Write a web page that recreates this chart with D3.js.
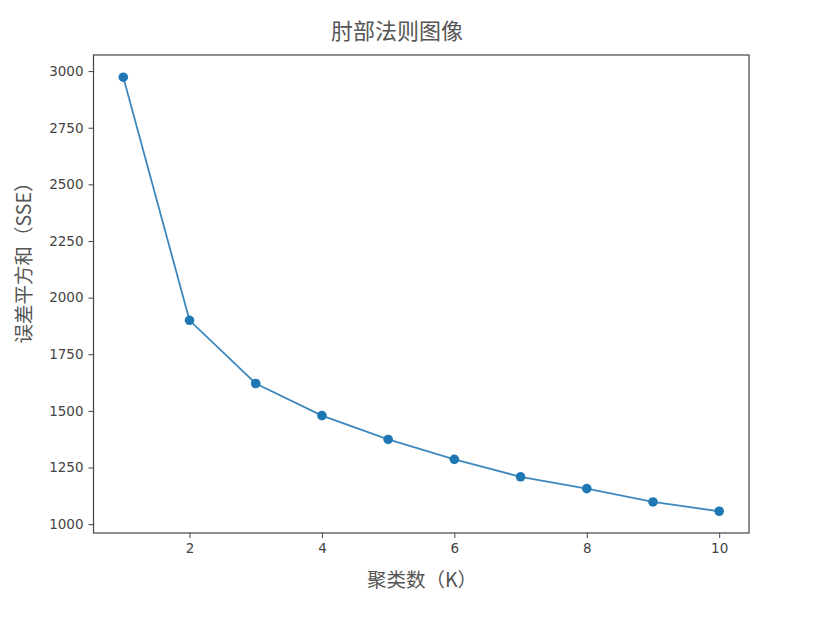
<!DOCTYPE html>
<html><head><meta charset="utf-8">
<script src="https://cdn.jsdelivr.net/npm/d3@7"></script>
<style>
body{margin:0;background:#fff;}
svg{display:block;}
</style></head>
<body>
<svg id="c" width="835" height="620"></svg>
<script>
const kValues = [1,2,3,4,5,6,7,8,9,10];
const sseValues = [2973,1900,1621,1479,1374,1286,1209,1157,1098,1057];
const xTicks = [2,4,6,8,10];
const yTicks = [1000,1250,1500,1750,2000,2250,2500,2750,3000];
const titleText = "肘部法则图像";
const xLabel = "聚类数（K）";
const yLabel = "误差平方和（SSE）";

const svg = d3.select("#c");
const L = 93.5, R = 749, T = 55, B = 533;
const x = d3.scaleLinear().domain([0.55, 10.45]).range([L, R]);
const y = d3.scaleLinear().domain([961, 3071]).range([B, T]);
const tickFont = "'DejaVu Sans', sans-serif";
const cjkFont = "'Noto Sans CJK SC', 'DejaVu Sans', sans-serif";
const textColor = "#444";

const xAxis = svg.append("g").attr("transform", `translate(0,${B})`)
  .call(d3.axisBottom(x).tickValues(xTicks).tickFormat(d3.format("d")).tickSize(5).tickPadding(5));
const yAxis = svg.append("g").attr("transform", `translate(${L},0)`)
  .call(d3.axisLeft(y).tickValues(yTicks).tickFormat(d3.format("d")).tickSize(5).tickPadding(5));
[xAxis, yAxis].forEach(a => {
  a.select(".domain").remove();
  a.selectAll(".tick line").attr("stroke", "#444").attr("stroke-width", 1);
  a.selectAll(".tick text").attr("fill", textColor).style("font-family", tickFont).style("font-size", "13.5px");
});

svg.append("rect").attr("x", L).attr("y", T).attr("width", R - L).attr("height", B - T)
  .attr("fill", "none").attr("stroke", "#444").attr("stroke-width", 1.2);

const line = d3.line().x((d, i) => x(kValues[i])).y(d => y(d));
svg.append("path").datum(sseValues).attr("d", line)
  .attr("fill", "none").attr("stroke", "#3f88bd").attr("stroke-width", 1.8);
svg.selectAll("circle.pt").data(sseValues).enter().append("circle").attr("class", "pt")
  .attr("cx", (d, i) => x(kValues[i])).attr("cy", d => y(d)).attr("r", 4.8).attr("fill", "#1f77b4");

svg.append("text").attr("x", 397).attr("y", 39).attr("text-anchor", "middle")
  .attr("fill", "#555").style("font-family", cjkFont).style("font-size", "22px").text(titleText);
svg.append("text").attr("x", 422).attr("y", 587).attr("text-anchor", "middle")
  .attr("fill", "#555").style("font-family", cjkFont).style("font-size", "19.5px").text(xLabel);
svg.append("text").attr("transform", "translate(30.5,258) rotate(-90)").attr("text-anchor", "middle")
  .attr("fill", "#555").style("font-family", cjkFont).style("font-size", "19.5px").text(yLabel);
</script>
</body></html>
